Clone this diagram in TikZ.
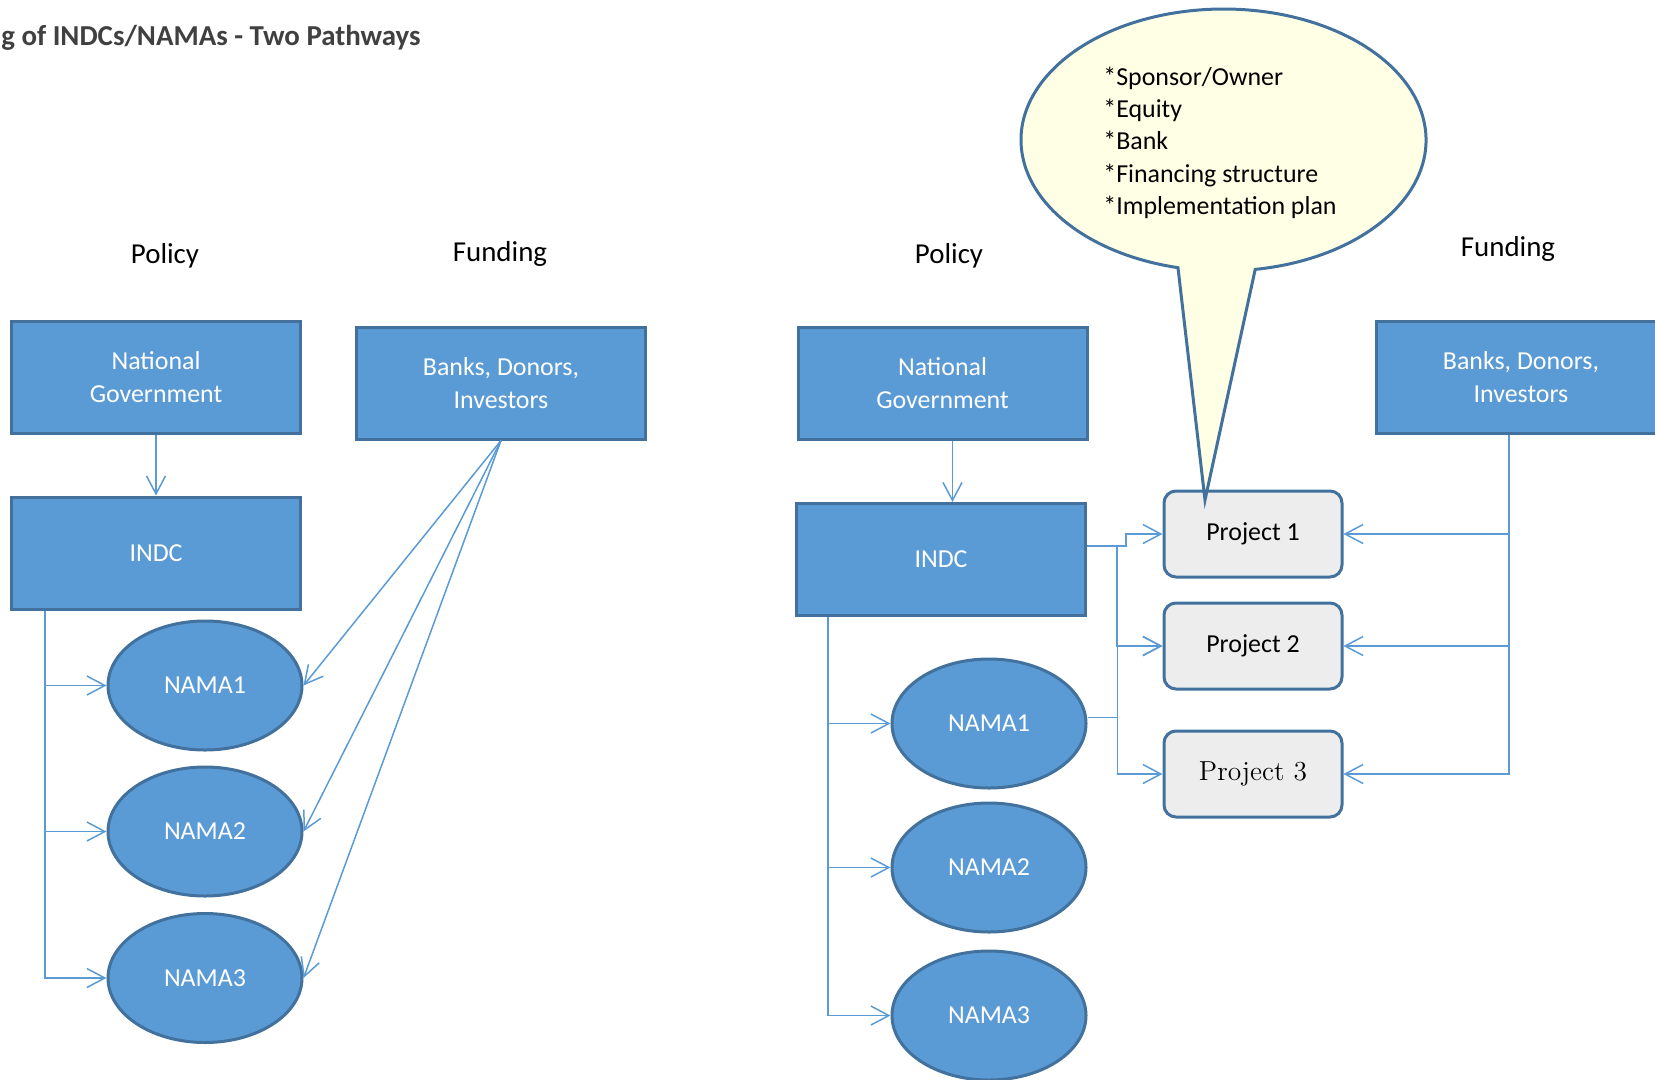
\documentclass[tikz,border=0pt]{standalone}
\usepackage{fontspec}
\setsansfont{Carlito}
\usetikzlibrary{arrows.meta,shapes.geometric,calc}
\definecolor{boxblue}{HTML}{5B9BD5}
\definecolor{edgeblue}{HTML}{41719C}
\definecolor{linkblue}{HTML}{5B9BD5}
\definecolor{projgray}{HTML}{EDEDED}
\definecolor{callfill}{HTML}{FFFFE5}
\definecolor{titlegray}{HTML}{404040}
\begin{document}
\begin{tikzpicture}[x=0.5bp,y=-0.5bp,
  bluebox/.style={rectangle, draw=edgeblue, line width=1.5bp, fill=boxblue, text=white,
    minimum width=144.5bp, minimum height=56bp, align=center, inner sep=0pt,
    font=\sffamily\fontsize{13}{16.4}\selectfont},
  nama/.style={ellipse, draw=edgeblue, line width=1.5bp, fill=boxblue, text=white,
    minimum width=97bp, minimum height=64.5bp, inner sep=0pt,
    font=\sffamily\fontsize{13}{16}\selectfont},
  proj/.style={rectangle, rounded corners=6bp, draw=edgeblue, line width=1.5bp, fill=projgray,
    minimum width=89bp, minimum height=43bp, inner sep=0pt,
    font=\sffamily\fontsize{13}{16}\selectfont},
  lbl/.style={font=\sffamily\fontsize{14.5}{17}\selectfont, inner sep=0pt},
  calltext/.style={font=\sffamily\fontsize{13}{16}\selectfont, inner sep=0pt, anchor=base west},
  conn/.style={draw=linkblue, line width=0.75bp, -{Straight Barb[length=9bp,width=9.5bp]}},
]
\useasboundingbox (0,0) rectangle (1655,1079);
\clip (0,0) rectangle (1655,1079);

% title
\node[anchor=base east, inner sep=0pt, text=titlegray, font=\sffamily\bfseries\fontsize{14.5}{17}\selectfont] (title) at (421,45) {g of INDCs/NAMAs - Two Pathways};

% ---------- left pathway ----------
\node[lbl] (policyL) at (165,256) {Policy};
\node[lbl] (fundingL) at (500,254) {Funding};
\node[bluebox] (natL) at (156,377) {National\\Government};
\node[bluebox] (banksL) at (501,383) {Banks, Donors,\\Investors};
\node[bluebox] (indcL) at (156,553) {INDC};
\node[nama] (nama1L) at (205,685.5) {NAMA1};
\node[nama] (nama2L) at (205,831.5) {NAMA2};
\node[nama] (nama3L) at (205,978) {NAMA3};

\draw[conn] (natL) -- (indcL);
\draw[conn] ([xshift=-55.5bp]indcL.south) |- (nama1L.west);
\draw[conn] ([xshift=-55.5bp]indcL.south) |- (nama2L.west);
\draw[conn] ([xshift=-55.5bp]indcL.south) |- (nama3L.west);
\draw[conn] (banksL.south) -- (nama1L.east);
\draw[conn] (banksL.south) -- (nama2L.east);
\draw[conn] (banksL.south) -- (nama3L.east);

% ---------- right pathway ----------
\node[lbl] (policyR) at (949,256) {Policy};
\node[lbl] (fundingR) at (1508,249) {Funding};
\node[bluebox] (natR) at (942.5,383) {National\\Government};
\node[bluebox] (indcR) at (941,559.5) {INDC};
\node[bluebox] (banksR) at (1521,377) {Banks, Donors,\\Investors};
\node[nama] (nama1R) at (989,723.5) {NAMA1};
\node[nama] (nama2R) at (989,867.5) {NAMA2};
\node[nama] (nama3R) at (989,1015.5) {NAMA3};
\node[proj] (p1) at (1253,534) {Project 1};
\node[proj] (p2) at (1253,646) {Project 2};
\node[proj, font=\rmfamily\fontsize{13.8}{16}\selectfont] (p3) at (1253,774) {Project 3};

\draw[conn] ([xshift=5bp]natR.south) -- ([xshift=5bp]natR.south |- indcR.north);
\draw[conn] ([xshift=-56.5bp]indcR.south) |- (nama1R.west);
\draw[conn] ([xshift=-56.5bp]indcR.south) |- (nama2R.west);
\draw[conn] ([xshift=-56.5bp]indcR.south) |- (nama3R.west);
\draw[conn] ([yshift=6.75bp]indcR.east) -- ++(39,0) |- (p1.west);
\draw[conn] ([yshift=6.75bp]indcR.east) -- ++(30,0) |- (p2.west);
\draw[conn] ([yshift=3bp]nama1R.east) -- ++(30,0) |- (p2.west);
\draw[conn] ([yshift=3bp]nama1R.east) -- ++(30,0) |- (p3.west);
\draw[conn] ([xshift=-6bp]banksR.south) |- (p1.east);
\draw[conn] ([xshift=-6bp]banksR.south) |- (p2.east);
\draw[conn] ([xshift=-6bp]banksR.south) |- (p3.east);

% ---------- callout ----------
\draw[draw=edgeblue, fill=callfill, line width=1.5bp]
  (1255.2,269.4) arc[start angle=81, end angle=-257, x radius=202.5, y radius=131]
  -- (1205,500) -- cycle;
\node[calltext] (c1) at (1103,85) {*Sponsor/Owner};
\node[calltext] (c2) at (1103,117) {*Equity};
\node[calltext] (c3) at (1103,149) {*Bank};
\node[calltext] (c4) at (1103,182) {*Financing structure};
\node[calltext] (c5) at (1103,214) {*Implementation plan};
\end{tikzpicture}
\end{document}
